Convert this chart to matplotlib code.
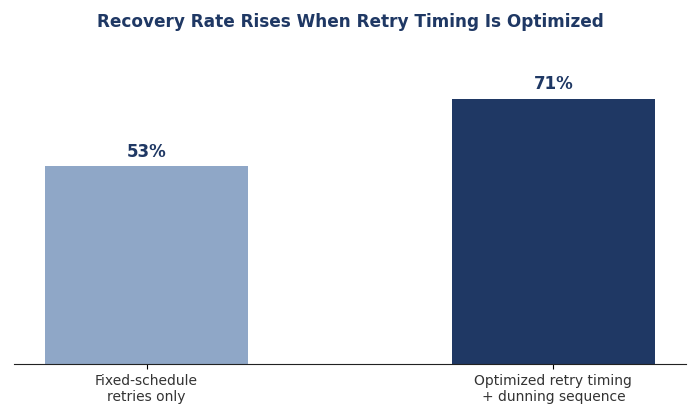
import matplotlib
matplotlib.use("Agg")
import matplotlib.pyplot as plt

categories = ["Fixed-schedule\nretries only", "Optimized retry timing\n+ dunning sequence"]
values = [53, 71]
labels = ["53%", "71%"]
colors = ["#8FA7C7", "#1F3864"]

fig = plt.figure(figsize=(7, 4.19), dpi=100)
ax = fig.add_axes([0.02, 0.1305, 0.96, 0.758])
x = list(range(len(categories)))
ax.bar(x, values, width=0.5, color=colors)
for xi, v, lab in zip(x, values, labels):
    ax.text(xi, v + 1.5, lab, ha="center", va="bottom", fontsize=12, fontweight="bold", color="#1F3864")
ax.set_xlim(-0.326, 1.326)
ax.set_ylim(0, 85)
ax.set_xticks(x)
ax.set_xticklabels(categories, fontsize=10, color="#333333")
ax.set_yticks([])
for s in ["left", "right", "top"]:
    ax.spines[s].set_visible(False)
ax.spines["bottom"].set_color("#222222")
fig.suptitle("Recovery Rate Rises When Retry Timing Is Optimized", fontsize=12.2, fontweight="bold", color="#1F3864", y=0.97)
fig.savefig("out.png", dpi=100)
